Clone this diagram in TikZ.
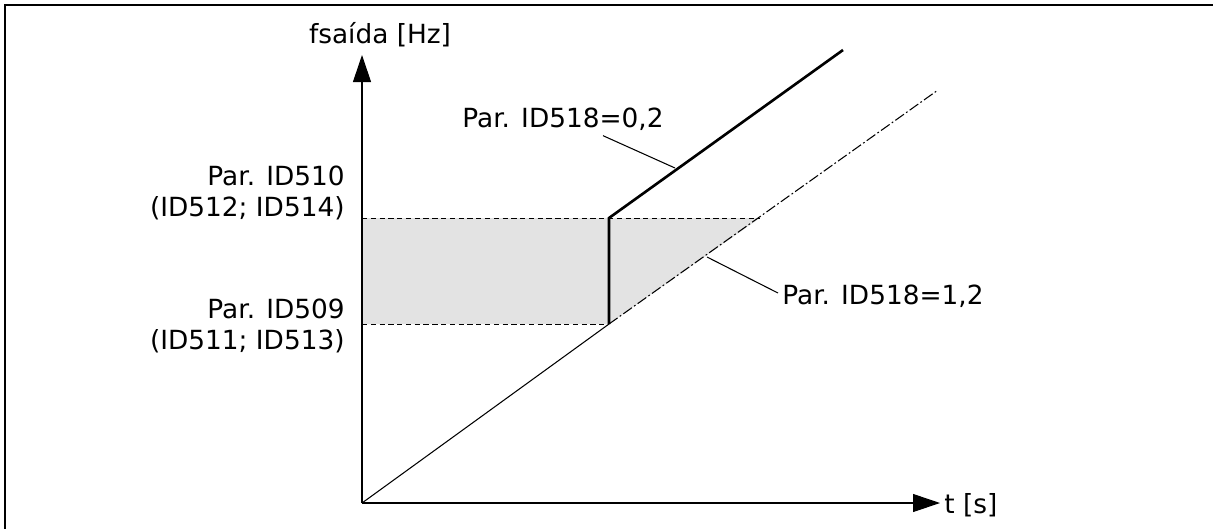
\documentclass[tikz,border=0pt]{standalone}
\usepackage{fontspec}
\setmainfont{DejaVu Sans}
\usetikzlibrary{positioning,arrows.meta}
\definecolor{bandgray}{HTML}{E3E3E3}

\begin{document}
\begin{tikzpicture}[x=0.02cm,y=-0.02cm,font=\fontsize{15}{17.6}\selectfont,lbl/.style={inner sep=0pt,align=right},axis/.style={line width=.6pt,-{Triangle[length=5.4mm,width=3.6mm]}},guide/.style={line width=.5pt,dash pattern=on 3pt off 2pt},ramp/.style={line width=1.5pt},slow/.style={line width=.6pt,dash pattern=on 6pt off 1.5pt on 1pt off 1.5pt}]
\useasboundingbox (0,0) rectangle (1213,529);
\draw[line width=1pt] (1213,5) -- (5,5) -- (5,529);
\coordinate (origin) at (362,503);
\coordinate (ytip) at (362,55);
\coordinate (xtip) at (940,503);
\coordinate (hi) at (609,218);
\coordinate (lo) at (609,324);
\coordinate (hiend) at (760,218);
\coordinate (fastend) at (843,50);
\coordinate (slowend) at (938,90);
\coordinate (fastpt) at (675,168);
\coordinate (slowpt) at (707,257);
% shaded band
\fill[bandgray] (origin |- hi) -- (hiend) -- (lo) -- (origin |- lo) -- cycle;
\draw[guide] (origin |- hi) -- (hiend);
\draw[guide] (origin |- lo) -- (lo);
% axes
\draw[axis] (origin) -- (ytip);
\draw[axis] (origin) -- (xtip);
\node[lbl] (fout) at (380,35) {fsaída [Hz]};
\node[lbl,anchor=west] (time) at (944,505) {t [s]};
% ramps
\draw[line width=.6pt] (origin) -- (lo);
\draw[slow] (lo) -- (slowend);
\draw[ramp] (lo) -- (hi) -- (fastend);
% labels
\node[lbl,anchor=east] (maxlbl) at (345,193) {Par. ID510\\(ID512; ID514)};
\node[lbl,anchor=east] (minlbl) at (345,326) {Par. ID509\\(ID511; ID513)};
\node[lbl] (fastlbl) at (563,119) {Par. ID518=0,2};
\node[lbl,anchor=west] (slowlbl) at (782,296) {Par. ID518=1,2};
\draw[line width=.6pt] ([shift={(40,5)}]fastlbl.south) -- (fastpt);
\draw[line width=.6pt] ([shift={(-4,-3)}]slowlbl.west) -- (slowpt);
\end{tikzpicture}
\end{document}
